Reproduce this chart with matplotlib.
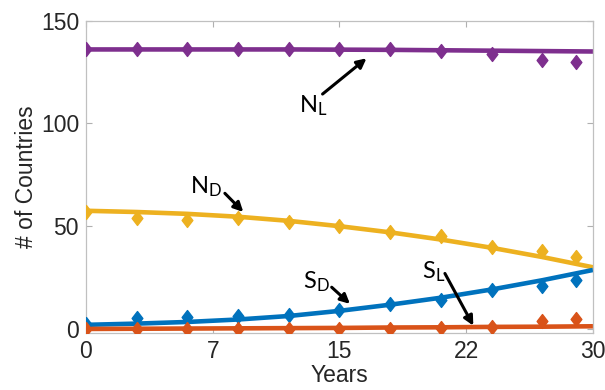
import numpy as np
import matplotlib
matplotlib.use('Agg')
import matplotlib.pyplot as plt
from matplotlib.path import Path

# data points (diamonds)
years = [0, 3, 6, 9, 12, 15, 18, 21, 24, 27, 29]
NL_data = [136, 136, 136, 136, 136, 136, 136, 135, 134, 131, 130]
ND_data = [57, 54, 53, 54, 52, 50, 47, 45, 40, 38, 35]
SD_data = [2.5, 5.5, 6, 6.5, 7, 9, 12, 14, 19, 21, 24]
SL_data = [0, 0, 0, 0, 0, 0, 0, 0.5, 1, 4, 5]

# model curves
fit_years = [0, 3, 6, 9, 12, 15, 18, 21, 24, 27, 30]
NL_fit = [136, 136, 136, 136, 136, 135.9, 135.8, 135.6, 135.4, 135.2, 135]
ND_fit = [57.5, 56.9, 56, 54.6, 52.6, 50, 47, 43.5, 39.5, 35, 30]
SD_fit = [2, 2.6, 3.4, 4.6, 6.3, 8.8, 11.8, 15.2, 19.2, 23.7, 28.7]
SL_fit = [0, 0.1, 0.2, 0.3, 0.4, 0.5, 0.7, 0.8, 1, 1.1, 1.3]

xtick_pos = [0, 7.5, 15, 22.5, 30]
xtick_lab = ['0', '7', '15', '22', '30']
ytick_pos = [0, 50, 100, 150]

blue = '#0072BD'
red = '#D95319'
yellow = '#EDB120'
purple = '#7E2F8E'

diamond = Path([(0, 1), (0.77, 0), (0, -1), (-0.77, 0), (0, 1)],
               [Path.MOVETO, Path.LINETO, Path.LINETO, Path.LINETO, Path.CLOSEPOLY])

plt.rcParams['font.family'] = ['Liberation Sans', 'DejaVu Sans']

fig = plt.figure(figsize=(6.05, 3.9), dpi=100)
ax = fig.add_axes([0.1421, 0.146, 0.838, 0.801])

for yd, yf, col in [(NL_data, NL_fit, purple), (ND_data, ND_fit, yellow),
                    (SD_data, SD_fit, blue), (SL_data, SL_fit, red)]:
    ax.plot(fit_years, yf, color=col, lw=3.3, solid_capstyle='butt', zorder=2)
    ax.plot(years, yd, ls='none', marker=diamond, ms=10, color=col, mec=col, zorder=3)

ax.set_xlim(0, 30)
ax.set_ylim(-2, 150)
ax.set_xticks(xtick_pos)
ax.set_xticklabels(xtick_lab)
ax.set_yticks(ytick_pos)
ax.tick_params(direction='in', top=True, right=True, length=4, width=0.8,
               color='#b0b0b0', labelsize=16.5, labelcolor='#262626', pad=5)
for s in ax.spines.values():
    s.set_color('#c0c0c0')
    s.set_linewidth(0.9)

ax.set_xlabel('Years', fontsize=16.5, color='#262626', labelpad=1)
ax.set_ylabel('# of Countries', fontsize=16.5, color='#262626', labelpad=2)

arr = dict(arrowstyle='-|>', lw=2.2, color='k', mutation_scale=14,
           shrinkA=0, shrinkB=0)
lab_font = dict(family=['Lato', 'DejaVu Sans'], fontsize=17, color='k')

ax.text(12.62, 105.5, r'$\mathregular{N_L}$', ha='left', va='baseline', **lab_font)
ax.annotate('', xy=(16.6, 131.7), xytext=(14.0, 114.3), arrowprops=arr)

ax.text(6.15, 66, r'$\mathregular{N_D}$', ha='left', va='baseline', **lab_font)
ax.annotate('', xy=(9.31, 56.9), xytext=(8.22, 66), arrowprops=arr)

ax.text(12.82, 19.6, r'$\mathregular{S_D}$', ha='left', va='baseline', **lab_font)
ax.annotate('', xy=(15.62, 12.2), xytext=(14.54, 20.3), arrowprops=arr)

ax.text(19.86, 24.5, r'$\mathregular{S_L}$', ha='left', va='baseline', **lab_font)
ax.annotate('', xy=(22.92, 1.6), xytext=(21.24, 27), arrowprops=arr)

fig.savefig('out.png', dpi=100)
